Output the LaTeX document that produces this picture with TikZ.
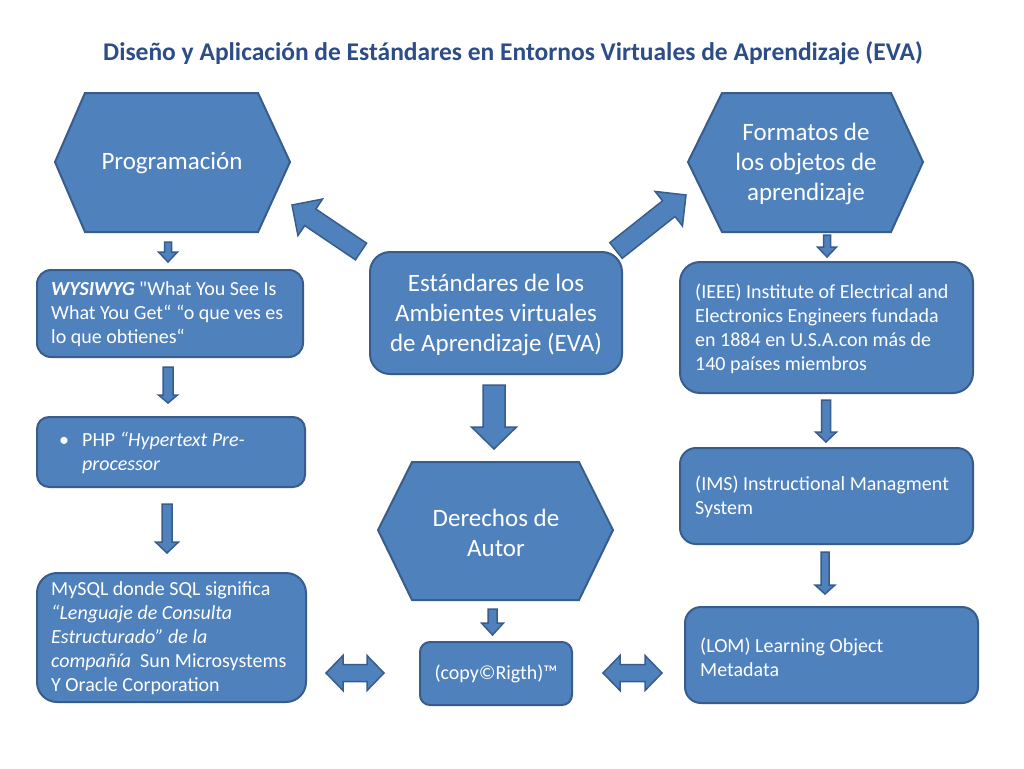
\documentclass[tikz,border=0pt]{standalone}
\usepackage{fontspec}
\setmainfont{Carlito}
\usetikzlibrary{calc}
\definecolor{boxfill}{RGB}{79,129,189}
\definecolor{boxline}{RGB}{56,93,138}
\definecolor{titleblue}{RGB}{44,77,135}
\tikzset{
  box/.style={draw=boxline, line width=2pt, fill=boxfill, inner sep=0pt},
  boxtext/.style={text=white, font=\fontsize{20}{24}\selectfont, align=left, inner sep=0pt, anchor=west},
  hexshape/.style={draw=boxline, line width=2pt, fill=boxfill, line join=miter},
  bigtext/.style={text=white, font=\fontsize{25}{30}\selectfont, align=center, inner sep=0pt},
  blockarrow/.style={draw=boxline, line width=1.5pt, fill=boxfill, line join=miter},
}
% single block arrow: tail, tip, shaft half width, head half width, head length
\newcommand{\blkarrow}[5]{%
  \coordinate (ba-hb) at ($(#2)!#5!(#1)$);
  \filldraw[blockarrow] ($(#1)!#3!90:(#2)$) -- ($(ba-hb)!#3!90:(#2)$) -- ($(ba-hb)!#4!90:(#2)$) -- (#2)
    -- ($(ba-hb)!#4!-90:(#2)$) -- ($(ba-hb)!#3!-90:(#2)$) -- ($(#1)!#3!-90:(#2)$) -- cycle;
}
% double block arrow: end A, end B, shaft half width, head half width, head length
\newcommand{\dblarrow}[5]{%
  \coordinate (da-a) at ($(#1)!#5!(#2)$);
  \coordinate (da-b) at ($(#2)!#5!(#1)$);
  \filldraw[blockarrow] (#1) -- ($(da-a)!#4!90:(#2)$) -- ($(da-a)!#3!90:(#2)$) -- ($(da-b)!#3!-90:(#1)$)
    -- ($(da-b)!#4!-90:(#1)$) -- (#2) -- ($(da-b)!#4!90:(#1)$) -- ($(da-b)!#3!90:(#1)$)
    -- ($(da-a)!#3!-90:(#2)$) -- ($(da-a)!#4!-90:(#2)$) -- cycle;
}
\begin{document}
\begin{tikzpicture}[x=1pt,y=-1pt]
\useasboundingbox (0,0) rectangle (1024,768);
\fill[white] (0,0) rectangle (1024,768);

% title
\node (title) [text=titleblue, font=\bfseries\fontsize{25.5}{30}\selectfont] at (513,53)
  {Diseño y Aplicación de Estándares en Entornos Virtuales de Aprendizaje (EVA)};

% hexagons
\filldraw[hexshape] (55,162) -- (85,93) -- (258,93) -- (290,162) -- (258,232) -- (85,232) -- cycle;
\node (prog) [bigtext] at (172,163) {Programación};

\filldraw[hexshape] (688,162) -- (722,93) -- (891,93) -- (923,162) -- (891,232) -- (722,232) -- cycle;
\node (form) [bigtext] at (806,164) {Formatos de\\los objetos de\\aprendizaje};

\filldraw[hexshape] (378,530) -- (412,462) -- (579,462) -- (613,530) -- (579,600) -- (412,600) -- cycle;
\node (der) [bigtext] at (496,533) {Derechos de\\Autor};

% centre box
\node (eva) [box, rounded corners=20pt, minimum width=252pt, minimum height=122pt] at (496,313) {};
\node (evat) [bigtext] at (496,315) {Estándares de los\\Ambientes virtuales\\de Aprendizaje (EVA)};

% left column
\node (wys) [box, rounded corners=14pt, minimum width=266pt, minimum height=87pt] at (170,313.5) {};
\node (wyst) [boxtext] at ($(wys.west)+(15,1)$)
  {\textbf{\textit{WYSIWYG}} \textquotedbl What You See Is\\What You Get“ “o que ves es\\lo que obtienes“};

\node (php) [box, rounded corners=12pt, minimum width=268pt, minimum height=70pt] at (171,452) {};
\node (phpt) [boxtext] at ($(php.west)+(15,1)$)
  {\hspace*{8pt}\makebox[23pt][l]{•}PHP \textit{“Hypertext Pre-}\\\hspace*{31pt}\textit{processor}};

\node (sql) [box, rounded corners=20pt, minimum width=269pt, minimum height=129pt] at (171.5,637.5) {};
\node (sqlt) [boxtext] at ($(sql.west)+(15,1)$)
  {MySQL donde SQL significa\\\textit{“Lenguaje de Consulta}\\\textit{Estructurado” de la}\\\textit{compañía}\ \ Sun Microsystems\\Y Oracle Corporation};

% copy box
\node (copy) [box, rounded corners=10pt, minimum width=152pt, minimum height=63pt] at (496,673.5) {};
\node (copyt) [boxtext, anchor=center] at (496,674) {(copy©Rigth)™};

% right column
\node (ieee) [box, rounded corners=20pt, minimum width=293pt, minimum height=131pt] at (826.5,327.5) {};
\node (ieeet) [boxtext] at ($(ieee.west)+(16,1.5)$)
  {(IEEE) Institute of Electrical and\\Electronics Engineers fundada\\en 1884 en U.S.A.con más de\\140 países miembros};

\node (ims) [box, rounded corners=16pt, minimum width=293pt, minimum height=96pt] at (826.5,496) {};
\node (imst) [boxtext] at ($(ims.west)+(16,1)$)
  {(IMS) Instructional Managment\\System};

\node (lom) [box, rounded corners=16pt, minimum width=293pt, minimum height=96pt] at (831.5,655) {};
\node (lomt) [boxtext] at ($(lom.west)+(16,2)$)
  {(LOM) Learning Object\\Metadata};

% block arrow end points
\coordinate (a1t) at (361,251.5); \coordinate (a1h) at (292,205);
\coordinate (a2t) at (616,250.5); \coordinate (a2h) at (686,195);
\coordinate (a3t) at (494,385);   \coordinate (a3h) at (494,449);
\coordinate (a4t) at (492.5,609); \coordinate (a4h) at (492.5,635);
\coordinate (a5t) at (168,242);   \coordinate (a5h) at (168,262);
\coordinate (a6t) at (168,367);   \coordinate (a6h) at (168,403);
\coordinate (a7t) at (167,504);   \coordinate (a7h) at (167,553);
\coordinate (a8t) at (827,235);   \coordinate (a8h) at (827,257);
\coordinate (a9t) at (826,400);   \coordinate (a9h) at (826,442);
\coordinate (a10t) at (825,552);  \coordinate (a10h) at (825,594);
\coordinate (d1a) at (326,673);   \coordinate (d1b) at (384,673);
\coordinate (d2a) at (603,673);   \coordinate (d2b) at (662,673);

\blkarrow{a1t}{a1h}{10pt}{22pt}{22pt}
\blkarrow{a2t}{a2h}{10pt}{22pt}{22pt}
\blkarrow{a3t}{a3h}{11pt}{22.5pt}{22pt}
\blkarrow{a4t}{a4h}{4.5pt}{11pt}{12pt}
\blkarrow{a5t}{a5h}{3.5pt}{9.5pt}{10pt}
\blkarrow{a6t}{a6h}{5pt}{9.5pt}{8pt}
\blkarrow{a7t}{a7h}{5pt}{11.5pt}{11pt}
\blkarrow{a8t}{a8h}{3.5pt}{9.5pt}{10pt}
\blkarrow{a9t}{a9h}{4.5pt}{10.5pt}{10pt}
\blkarrow{a10t}{a10h}{4pt}{10pt}{9pt}
\dblarrow{d1a}{d1b}{8.5pt}{17.5pt}{17pt}
\dblarrow{d2a}{d2b}{8.5pt}{17.5pt}{17pt}
\end{tikzpicture}
\end{document}
